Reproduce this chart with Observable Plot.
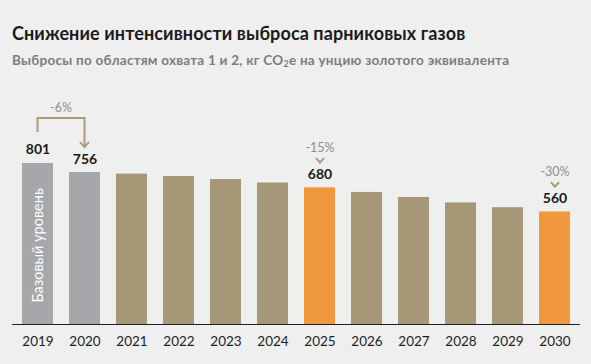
<!DOCTYPE html>
<html>
<head>
<meta charset="utf-8">
<script src="https://cdn.jsdelivr.net/npm/d3@7"></script>
<script src="https://cdn.jsdelivr.net/npm/@observablehq/plot@0.6"></script>
<style>
  html, body { margin: 0; padding: 0; background: #efefef; }
  body { width: 591px; height: 364px; overflow: hidden; font-family: Lato, "Open Sans", sans-serif; }
  #head { height: 80px; box-sizing: border-box; padding: 22px 0 0 12px; }
  #title { font-size: 18px; font-weight: 700; color: #1b1b1b; line-height: 22px; letter-spacing: 0.1px; }
  #subtitle { margin-top: 8px; font-size: 13.5px; font-weight: 700; color: #7d7d7d; line-height: 17px; letter-spacing: 0.25px; }
  #subtitle sub { font-size: 9px; vertical-align: -2px; line-height: 0; }
  #chart svg { display: block; }
</style>
</head>
<body>
<div id="head">
  <div id="title">Снижение интенсивности выброса парниковых газов</div>
  <div id="subtitle">Выбросы по областям охвата 1 и 2, кг CO<sub>2</sub>e на унцию золотого эквивалента</div>
</div>
<div id="chart"></div>
<script>
const years = ["2019","2020","2021","2022","2023","2024","2025","2026","2027","2028","2029","2030"];
const values = [801, 756, 748, 736, 721, 704, 680, 657, 632, 605, 581, 560];
const kinds = ["base","base","path","path","path","path","target","path","path","path","path","target"];
const labeledYears = ["2019","2020","2025","2030"];
const targetYears = ["2025","2030"];
const targetLabels = ["-15%","-30%"];
const bracketFrom = "2019";
const bracketTo = "2020";
const bracketLabel = "-6%";
const baseLabel = "Базовый уровень";

const colors = {base: "#a6a7ab", path: "#a69876", target: "#f1973d"};
const accent = "#ab9c7a";

const rows = years.map((y, i) => ({year: y, value: values[i], kind: kinds[i]}));
const labeled = rows.filter(d => labeledYears.includes(d.year));
const targets = targetYears.map((y, i) => ({year: y, value: values[years.indexOf(y)], label: targetLabels[i]}));

const chevron = {
  draw(ctx) {
    ctx.moveTo(-4, -2.2);
    ctx.lineTo(0, 2.2);
    ctx.lineTo(4, -2.2);
  }
};

function bracketMark(index, scales) {
  const x = scales.x, y = scales.y;
  const bw = x.bandwidth ? x.bandwidth() / 2 : 0;
  const x1 = x(bracketFrom) + bw, x2 = x(bracketTo) + bw;
  const v1 = values[years.indexOf(bracketFrom)], v2 = values[years.indexOf(bracketTo)];
  const top = y(Math.max(v1, v2)) - 45;
  const start = y(v1) - 31;
  const tip = y(v2) - 25;
  const g = d3.create("svg:g");
  g.append("path")
    .attr("d", `M${x1},${start}V${top}H${x2}V${tip}`)
    .attr("fill", "none").attr("stroke", accent).attr("stroke-width", 2);
  g.append("path")
    .attr("d", `M${x2 - 4.5},${tip - 5}L${x2},${tip}L${x2 + 4.5},${tip - 5}`)
    .attr("fill", "none").attr("stroke", accent).attr("stroke-width", 2);
  g.append("text")
    .attr("x", (x1 + x2) / 2).attr("y", top - 10).attr("dy", "0.35em")
    .attr("text-anchor", "middle")
    .attr("font-size", 12.5).attr("fill", "#8e8e8e")
    .attr("font-family", "Lato, sans-serif")
    .text(bracketLabel);
  return g.node();
}

const plot = Plot.plot({
  width: 591,
  height: 284,
  marginLeft: 12,
  marginRight: 11,
  marginTop: 43,
  marginBottom: 40,
  style: {background: "transparent", fontFamily: "Lato, sans-serif", fontSize: "13.5px", color: "#1e1e1e"},
  x: {domain: years, paddingInner: 0.35, paddingOuter: 0.175, tickSize: 0, tickPadding: 12, label: null},
  y: {domain: [0, 1000], axis: null},
  marks: [
    Plot.barY(rows, {x: "year", y: "value", fill: d => colors[d.kind]}),
    Plot.ruleY([0], {stroke: "#222", strokeWidth: 1.2}),
    Plot.text(labeled, {x: "year", y: "value", text: d => String(d.value), dy: -13.5, fontWeight: 700, fontSize: 14, fill: "#1a1a1a"}),
    Plot.text(targets, {x: "year", y: "value", text: "label", dy: -40, fontSize: 12.5, fill: "#8e8e8e"}),
    Plot.dot(targets, {x: "year", y: "value", symbol: chevron, r: 4, dy: -27.5, fill: "none", stroke: accent, strokeWidth: 2}),
    Plot.text([rows[0]], {x: "year", y: 0, text: () => baseLabel, rotate: -90, textAnchor: "start", dy: -22, fontSize: 14.5, fill: "#ffffff"}),
    bracketMark
  ]
});
document.getElementById("chart").appendChild(plot);
</script>
</body>
</html>
